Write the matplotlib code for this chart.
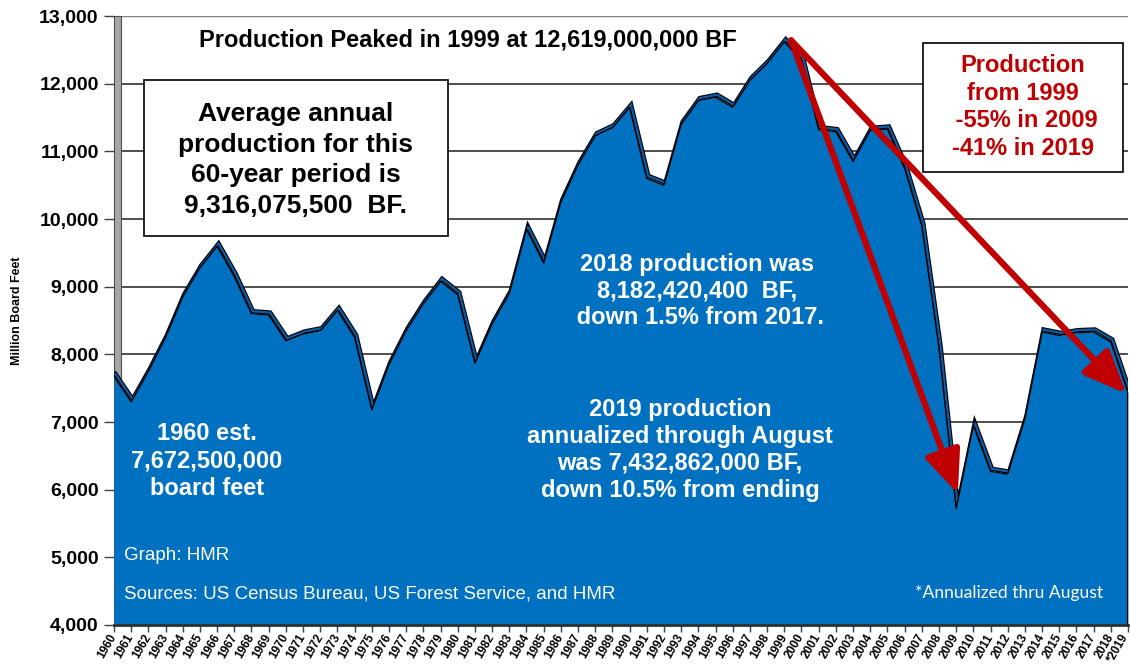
import matplotlib
matplotlib.use("Agg")
import matplotlib.pyplot as plt
from matplotlib.patches import Rectangle
from matplotlib.transforms import offset_copy, ScaledTranslation
import matplotlib.patheffects as pe

plt.rcParams['font.family'] = ['Liberation Sans', 'DejaVu Sans']

years = list(range(1960, 2020))
production = [7672, 7300, 7750, 8250, 8850, 9280, 9600, 9150, 8600, 8580,
              8200, 8300, 8350, 8650, 8250, 7180, 7850, 8350, 8750, 9080,
              8880, 7870, 8450, 8900, 9850, 9350, 10250, 10800, 11230, 11350,
              11650, 10600, 10500, 11400, 11750, 11800, 11650, 12050, 12300, 12619,
              12350, 11320, 11290, 10850, 11310, 11330, 10750, 9900, 8100, 5720,
              6950, 6270, 6230, 7050, 8330, 8280, 8320, 8330, 8182, 7433]
xlabels = [str(y) for y in years[:-1]] + ["*2019"]
yticks = list(range(4000, 13001, 1000))

W, H = 1130, 669
fig = plt.figure(figsize=(W / 100, H / 100), dpi=100)

def fx(x):
    return x / W

def fy(y):
    return 1 - y / H

L, R, T, B = 114, 1128, 16, 625
ax = fig.add_axes([fx(L), fy(B), fx(R - L), (B - T) / H])
ax.set_xlim(1960, 2019)
ax.set_ylim(4000, 13000)

# gridlines
for v in yticks[1:-1]:
    ax.axhline(v, color='#404040', lw=1.3, zorder=1)
ax.axhline(13000, color='#808080', lw=1.0, zorder=1)

# left 3D wall
ax.add_patch(Rectangle((0, 0), 7 / (R - L), 1, transform=ax.transAxes,
                       facecolor='#A6A6A6', edgecolor='#505050', lw=0.8,
                       zorder=1.5, clip_on=False))

# 3D depth strip
off = offset_copy(ax.transData, fig=fig, x=1.5, y=2.5, units='dots')
ax.plot(years, production, transform=off, color='#0B5CA6', lw=1.6, zorder=2.5,
        solid_joinstyle='miter',
        path_effects=[pe.Stroke(linewidth=3.2, foreground='black'), pe.Normal()])
ax.fill_between(years, production, 4000, color='#0070C0', lw=0, zorder=3)
ax.plot(years, production, color='black', lw=1.0, zorder=4)
ax.plot([2019, 2019], [4000, production[-1]], color='black', lw=1.5, zorder=4)

for s in ['top', 'right', 'left']:
    ax.spines[s].set_visible(False)
ax.spines['bottom'].set_color('#303030')
ax.spines['bottom'].set_linewidth(2)
ax.spines['bottom'].set_zorder(6)

ax.set_yticks(yticks)
ax.set_yticklabels([f"{v:,}" for v in yticks], fontsize=14, fontweight='bold')
ax.tick_params(axis='y', length=7, width=1, color='#404040', pad=4)
ax.set_xticks(years)
ax.set_xticklabels(xlabels, rotation=60, ha='right', va='center',
                   rotation_mode='anchor', fontsize=8.5, fontweight='bold')
ax.tick_params(axis='x', length=5, width=1, color='#404040', pad=2)
last = ax.get_xticklabels()[-1]
last.set_transform(last.get_transform() + ScaledTranslation(-0.025, 0, fig.dpi_scale_trans))

fig.text(fx(17), fy(311), "Million Board Feet", rotation=90, ha='center',
         va='center', fontsize=9, fontweight='bold')

# arrows
arrow_style = '-|>,head_length=1.3,head_width=0.55'
for end in [(2009.1, 5940), (2018.9, 7417)]:
    ax.annotate('', xy=end, xytext=(1999.4, 12640),
                arrowprops=dict(arrowstyle=arrow_style, color='#C00000', lw=4.5,
                                mutation_scale=20, shrinkA=0, shrinkB=0),
                zorder=7, annotation_clip=False)

# title
fig.text(fx(468), fy(40), "Production Peaked in 1999 at 12,619,000,000 BF",
         ha='center', va='center', fontsize=17, fontweight='bold')

# average box
fig.patches.append(Rectangle((fx(144), fy(236)), fx(448 - 144), (236 - 80) / H,
                             transform=fig.transFigure, facecolor='white',
                             edgecolor='black', lw=1.2, zorder=8))
fig.text(fx(296), fy(160), "Average annual\nproduction for this\n60-year period is\n9,316,075,500  BF.",
         ha='center', va='center', fontsize=19, fontweight='bold',
         linespacing=1.34, zorder=9)

# red box
fig.patches.append(Rectangle((fx(923), fy(172)), fx(1123 - 923), (172 - 43) / H,
                             transform=fig.transFigure, facecolor='white',
                             edgecolor='black', lw=1.2, zorder=8))
fig.text(fx(1023), fy(107), "Production\nfrom 1999\n -55% in 2009\n-41% in 2019",
         ha='center', va='center', fontsize=17, fontweight='bold',
         color='#C00000', linespacing=1.25, zorder=9)

# white annotations
fig.text(fx(697), fy(291), "2018 production was\n8,182,420,400  BF,\n down 1.5% from 2017.",
         ha='center', va='center', fontsize=17, fontweight='bold', color='white',
         linespacing=1.21, zorder=9)
fig.text(fx(680), fy(450), "2019 production\nannualized through August\nwas 7,432,862,000 BF,\ndown 10.5% from ending",
         ha='center', va='center', fontsize=17, fontweight='bold', color='white',
         linespacing=1.22, zorder=9)
fig.text(fx(207), fy(461), "1960 est.\n7,672,500,000\nboard feet",
         ha='center', va='center', fontsize=17, fontweight='bold', color='white',
         linespacing=1.23, zorder=9)
fig.text(fx(124), fy(556), "Graph: HMR", ha='left', va='center', fontsize=13.5,
         color='white', zorder=9)
fig.text(fx(124), fy(594), "Sources: US Census Bureau, US Forest Service, and HMR",
         ha='left', va='center', fontsize=13.5, color='white', zorder=9)
fig.text(fx(915), fy(593), "*Annualized thru August", ha='left', va='center',
         fontsize=12.6, color='white', family=['Lato', 'DejaVu Sans'], zorder=9)

fig.savefig("out.png", dpi=100)
